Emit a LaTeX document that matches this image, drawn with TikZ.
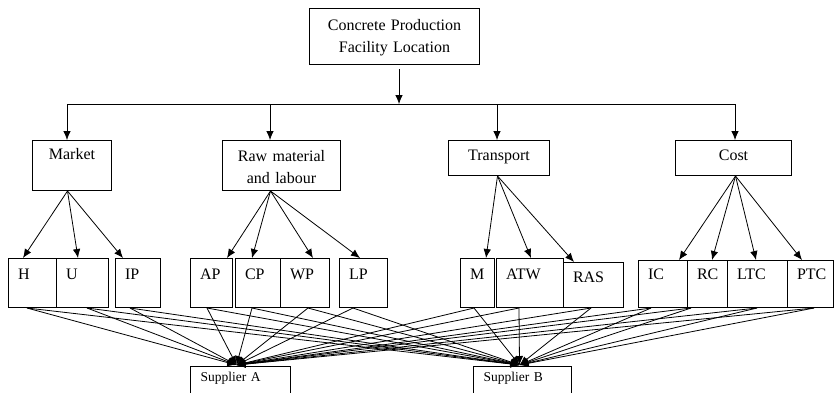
\documentclass[tikz,border=0pt]{standalone}
\usepackage{fontspec}
\setmainfont{Liberation Serif}
\usetikzlibrary{calc,arrows.meta,positioning}
\tikzstyle{box node}=[draw,line width=1pt,anchor=north west,inner xsep=0pt,inner ysep=0pt,align=center,font=\fontsize{16}{22}\selectfont]
\tikzstyle{leaf node}=[box node,align=left,inner xsep=9.5pt,text height=21pt,text depth=28pt]
\tikzstyle{supplier node}=[box node,align=left,inner xsep=10pt,text height=15pt,text depth=25pt,font=\fontsize{13.5}{16}\selectfont]
\tikzstyle{link}=[line width=0.8pt,-{Latex[length=9pt,width=7.5pt]}]

\begin{document}
\begin{tikzpicture}[x=1pt,y=-1pt]
		\clip (0,0) rectangle (834,392);

		% goal and criteria
		\node[box node,text width=170pt,text height=22pt,text depth=34pt] (facility) at (309,8) {Concrete Production\\Facility Location};
		\node[box node,text width=79pt,text height=19pt,text depth=31pt] (market) at (32,140) {Market};
		\node[box node,text width=118pt,text height=21pt,text depth=29pt] (raw) at (222,140) {Raw material\\and labour};
		\node[box node,text width=101pt,text height=20pt,text depth=15pt] (transport) at (448,140) {Transport};
		\node[box node,text width=116pt,text height=20pt,text depth=15pt] (cost) at (675,140) {Cost};

		% sub-criteria
		\node[leaf node,text width=29pt] (H) at (8,258) {H};
		\node[leaf node,text width=33pt] (U) at (56,258) {U};
		\node[leaf node,text width=26pt] (IP) at (115,258) {IP};
		\node[leaf node,text width=23pt] (AP) at (190,258) {AP};
		\node[leaf node,text width=26pt] (CP) at (235,258) {CP};
		\node[leaf node,text width=30pt] (WP) at (280,258) {WP};
		\node[leaf node,text width=29pt] (LP) at (339,258) {LP};
		\node[leaf node,text width=15pt] (M) at (460,258) {M};
		\node[leaf node,text width=48pt] (ATW) at (496,258) {ATW};
		\node[leaf node,text width=41pt,text height=20pt,text depth=25pt] (RAS) at (563,262) {RAS};
		\node[leaf node,text width=30pt,text height=19pt] (IC) at (638,260) {IC};
		\node[leaf node,text width=21pt,text height=19pt] (RC) at (687,260) {RC};
		\node[leaf node,text width=41pt,text height=19pt] (LTC) at (727,260) {LTC};
		\node[leaf node,text width=27pt,text height=19pt] (PTC) at (787,260) {PTC};

		% alternatives
		\node[supplier node,text width=80pt] (supplierA) at (190,366) {Supplier A};
		\node[supplier node,text width=78pt] (supplierB) at (473,366) {Supplier B};

		% bus under the goal
		\coordinate (bus) at (399,104);
		\coordinate (busL) at (67,104);
		\coordinate (busR) at (735,104);
		\draw[link,shorten <=4pt] (bus |- facility.south) -- (bus);
		\draw[line width=0.8pt] (busL) -- (busR);
		\foreach \n/\x in {market/67,raw/270,transport/497,cost/735}
			\draw[link] (\x,104) -- (\n.north -| \x,0);

		% criteria to sub-criteria
		\coordinate (market-out) at ([xshift=-4.5pt]market.south);
		\coordinate (raw-out) at ([xshift=-11pt]raw.south);
		\coordinate (transport-out) at ([xshift=-1.5pt]transport.south);
		\coordinate (cost-out) at ([xshift=2pt]cost.south);
		\foreach \p/\c/\x in {market/H/23,market/U/78,market/IP/123,raw/AP/227,raw/CP/252,raw/WP/313,raw/LP/360,transport/M/486,transport/ATW/531,transport/RAS/574,cost/IC/679,cost/RC/712,cost/LTC/756,cost/PTC/802}
			\draw[link] (\p-out) -- (\c.north -| \x,0);

		% sub-criteria to suppliers
		\coordinate (A-in) at ([xshift=-4pt,yshift=1pt]supplierA.north);
		\coordinate (B-in) at ([xshift=-3pt,yshift=1pt]supplierB.north);
		\foreach \c/\x in {H/27,U/87,IP/130,AP/207,CP/252,WP/308,LP/353,M/474,ATW/519,RAS/591,IC/651,RC/691,LTC/757,PTC/814}{
			\draw[link] (\c.south -| \x,0) -- (A-in);
			\draw[link] (\c.south -| \x,0) -- (B-in);
		}

\end{tikzpicture}
\end{document}
